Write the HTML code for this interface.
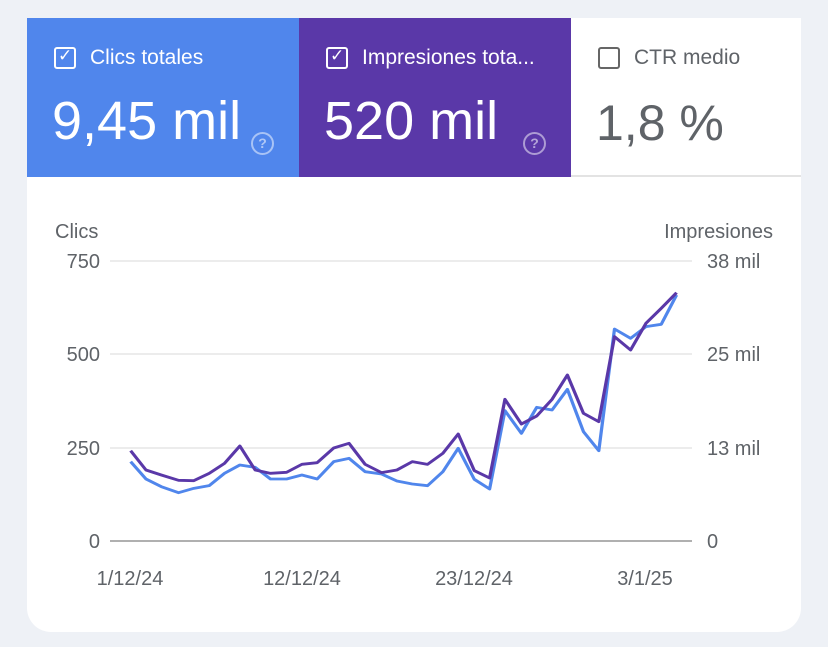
<!DOCTYPE html>
<html><head><meta charset="utf-8"><style>
body{margin:0;width:828px;height:647px;background:#eef1f6;font-family:"Liberation Sans",sans-serif;overflow:hidden;position:relative}
.card{position:absolute;left:27px;top:18px;width:774px;height:614px;background:#fff;border-radius:0 0 24px 24px}
.tile{position:absolute;top:18px;height:159px}
.lbl{position:absolute;left:27px;top:28px;font-size:21px;white-space:nowrap}
.cb{position:absolute;left:0;top:1px;width:22px;height:22px;border:2px solid;border-radius:3px;box-sizing:border-box}
.ck{position:absolute;left:4px;top:0px;font-size:17px}
.val{position:absolute;left:25px;top:72px;font-size:54px;white-space:nowrap}
.q{position:absolute;width:19px;height:19px;border:2px solid rgba(255,255,255,.5);border-radius:50%;color:rgba(255,255,255,.55);font-size:14px;text-align:center;line-height:19px;font-weight:bold}
.t{position:absolute;font-size:20px;color:#5f6368}
</style></head><body>
<div class="card"></div>
<div class="tile" style="left:27px;width:272px;background:#5086ec;color:#fff">
<div class="lbl"><span class="cb" style="border-color:#fff"></span><span class="ck">✓</span><span style="margin-left:36px">Clics totales</span></div>
<div class="val">9,45 mil</div><div class="q" style="left:224px;top:114px">?</div></div>
<div class="tile" style="left:299px;width:272px;background:#5a38a8;color:#fff">
<div class="lbl"><span class="cb" style="border-color:#fff"></span><span class="ck">✓</span><span style="margin-left:36px">Impresiones tota...</span></div>
<div class="val">520 mil</div><div class="q" style="left:224px;top:114px">?</div></div>
<div class="tile" style="left:571px;width:230px;background:#fff;color:#5f6368;border-bottom:2px solid #e3e3e3;box-sizing:border-box">
<div class="lbl"><span class="cb" style="border-color:#666"></span><span style="margin-left:36px">CTR medio</span></div>
<div class="val" style="color:#5f6368;font-size:50px;top:76px">1,8 %</div></div>
<div class="t" style="left:55px;top:221px">Clics</div>
<div class="t" style="right:55px;top:221px">Impresiones</div>
<div class="t" style="left:50px;top:251px;width:50px;text-align:right">750</div>
<div class="t" style="left:50px;top:344px;width:50px;text-align:right">500</div>
<div class="t" style="left:50px;top:438px;width:50px;text-align:right">250</div>
<div class="t" style="left:50px;top:531px;width:50px;text-align:right">0</div>
<div class="t" style="left:707px;top:251px">38 mil</div>
<div class="t" style="left:707px;top:344px">25 mil</div>
<div class="t" style="left:707px;top:438px">13 mil</div>
<div class="t" style="left:707px;top:531px">0</div>
<div class="t" style="left:80px;top:568px;width:100px;text-align:center">1/12/24</div>
<div class="t" style="left:252px;top:568px;width:100px;text-align:center">12/12/24</div>
<div class="t" style="left:424px;top:568px;width:100px;text-align:center">23/12/24</div>
<div class="t" style="left:595px;top:568px;width:100px;text-align:center">3/1/25</div>
<svg width="828" height="647" style="position:absolute;left:0;top:0">
<g stroke="#ececec" stroke-width="2"><line x1="110" x2="692" y1="261" y2="261"/><line x1="110" x2="692" y1="354" y2="354"/><line x1="110" x2="692" y1="448" y2="448"/></g>
<line x1="110" x2="692" y1="541" y2="541" stroke="#b0b0b0" stroke-width="2"/>
<g transform="translate(100,280) scale(0.3831,0.33333)" fill="none" stroke-width="8.5" stroke-linejoin="round">
<polyline stroke="#5086ec" points="80,545 120,597 160,620 205,638 245,625 285,617 325,580 365,555 405,562 445,597 487,597 527,585 567,597 610,545 650,535 692,575 735,582 775,603 815,612 855,617 895,575 935,505 977,598 1017,627 1057,392 1100,460 1140,382 1180,390 1220,328 1262,455 1302,512 1343,147 1385,175 1425,140 1465,133 1505,45"/>
<polyline stroke="#5a38a8" points="80,512 120,570 160,585 205,601 245,602 285,580 325,550 365,498 405,570 445,580 487,577 527,553 567,548 610,504 650,490 692,553 735,578 775,570 815,545 855,553 895,520 935,462 977,572 1017,594 1057,358 1100,432 1140,408 1180,358 1220,285 1262,400 1302,425 1343,170 1385,210 1425,130 1465,85 1505,38"/>
</g></svg>
</body></html>
